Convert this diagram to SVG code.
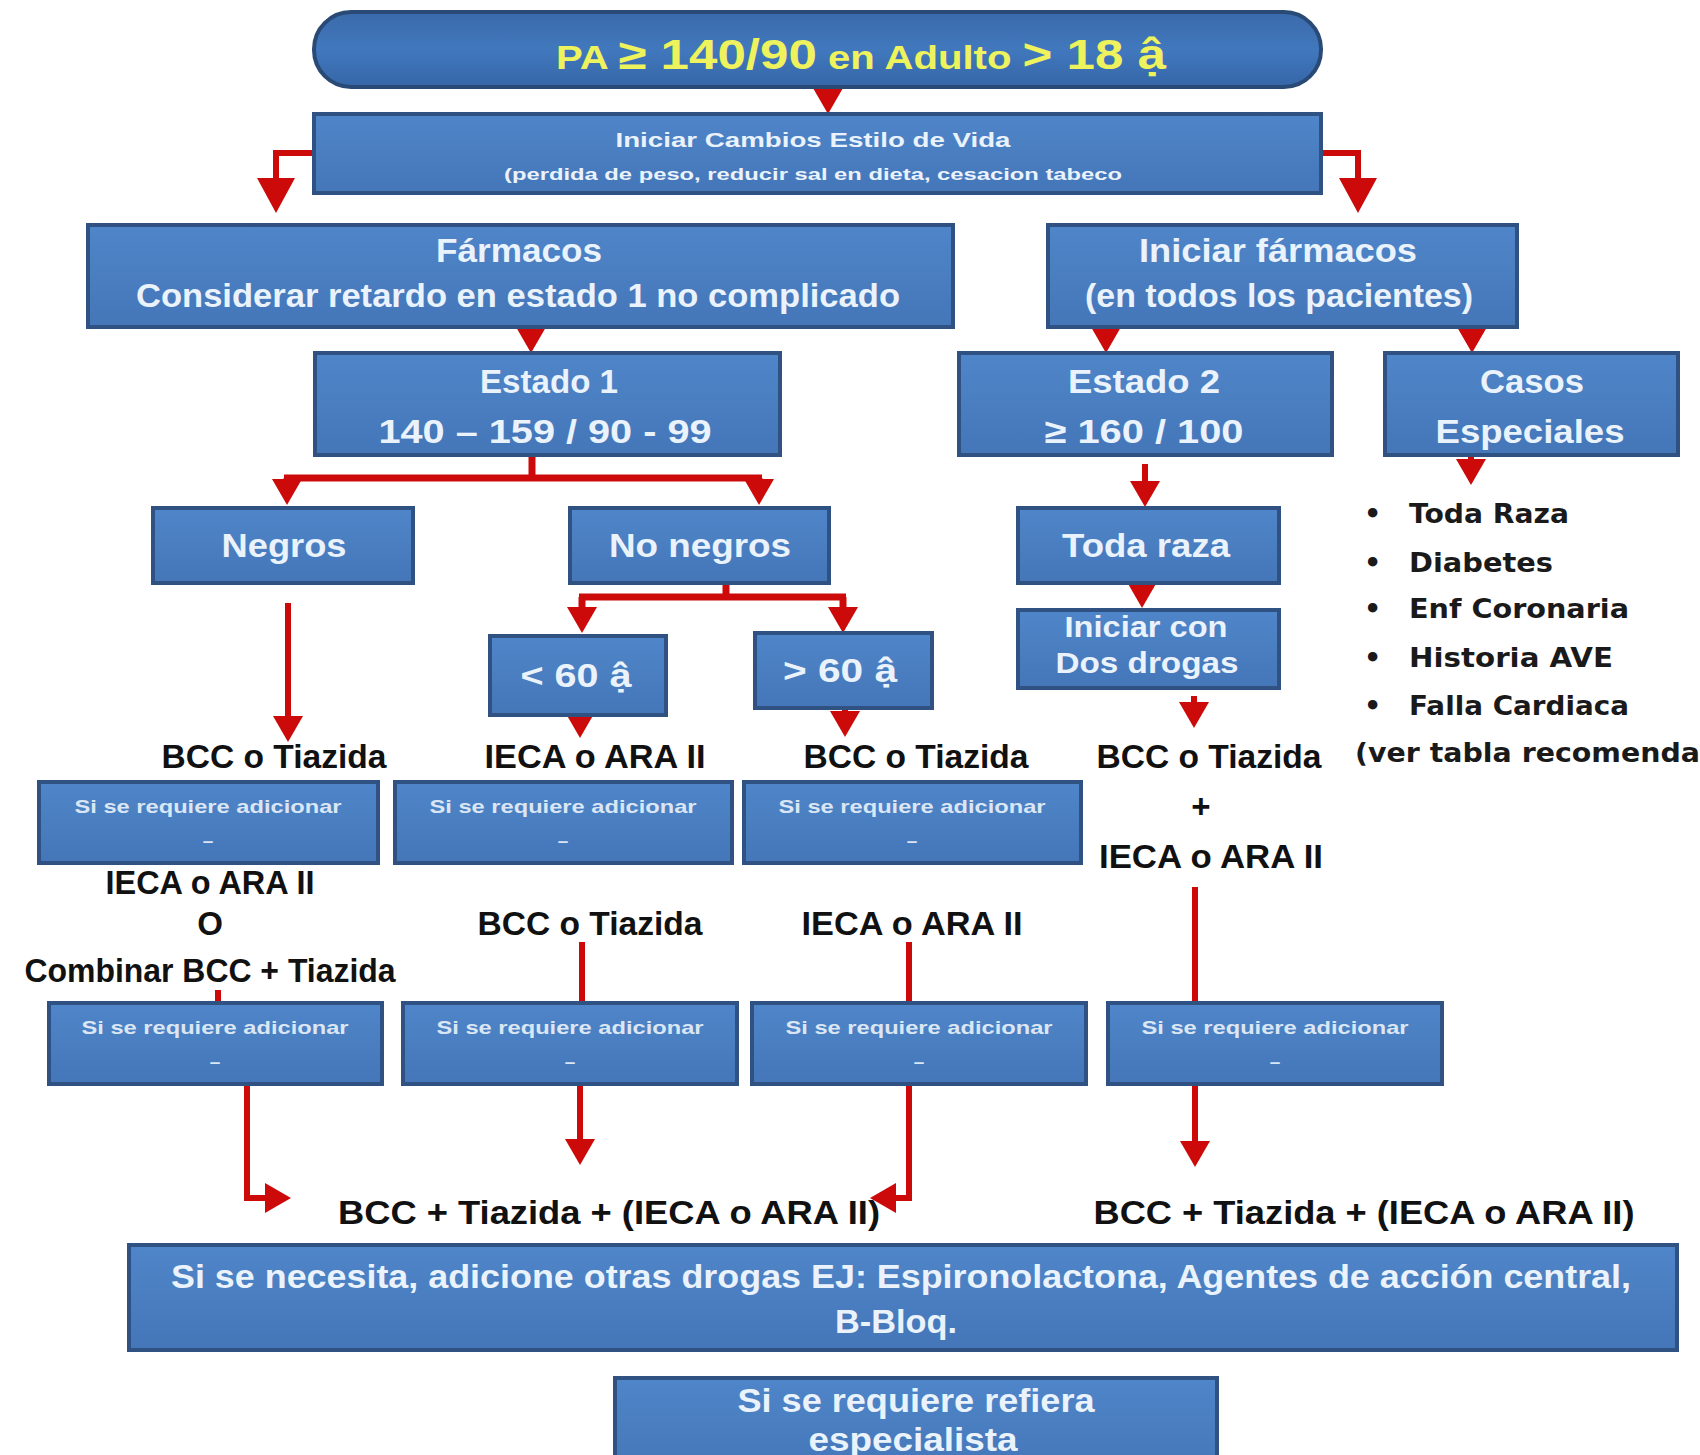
<svg xmlns="http://www.w3.org/2000/svg" width="1700" height="1455" viewBox="0 0 1700 1455">
<style>
.box{fill:url(#gBox);stroke:#2f5282;stroke-width:4}
.pill{fill:url(#gPill);stroke:#2a4a76;stroke-width:4}
.wt{font-family:"Liberation Sans",Arial,sans-serif;font-weight:bold;fill:#eaf2fc;text-anchor:middle}
.sm{font-family:"Liberation Sans",Arial,sans-serif;font-weight:bold;fill:#dbe6f4;text-anchor:middle;font-size:19px}
.bt{font-family:"Liberation Sans",Arial,sans-serif;font-weight:bold;fill:#111;text-anchor:middle;font-size:33px}
.li{font-family:"DejaVu Sans",Verdana,sans-serif;font-weight:bold;fill:#1a1a1a;font-size:27px}
.ln{fill:none;stroke:#cc0a0a;stroke-width:6}
.lt{fill:none;stroke:#cc0a0a;stroke-width:7}
</style>
<defs>
<linearGradient id="gBox" x1="0" y1="0" x2="0" y2="1">
<stop offset="0" stop-color="#4f86c9"/>
<stop offset="1" stop-color="#4476b8"/>
</linearGradient>
<linearGradient id="gPill" x1="0" y1="0" x2="0" y2="1">
<stop offset="0" stop-color="#3a6aab"/>
<stop offset="0.5" stop-color="#4178bd"/>
<stop offset="1" stop-color="#3566a8"/>
</linearGradient>
<marker id="ah" markerUnits="userSpaceOnUse" markerWidth="26" markerHeight="30" viewBox="0 0 26 30" refX="16" refY="15" orient="auto">
<path d="M0,0 L26,15 L0,30 z" fill="#cc0a0a"/>
</marker>
<marker id="ahL" markerUnits="userSpaceOnUse" markerWidth="35" markerHeight="38" viewBox="0 0 35 38" refX="25" refY="19" orient="auto">
<path d="M0,0 L35,19 L0,38 z" fill="#cc0a0a"/>
</marker>
</defs>
<rect x="0" y="0" width="1700" height="1455" fill="#ffffff"/>

<g id="connectors">
<path class="ln" d="M828,87 V104" marker-end="url(#ah)"/>
<path class="ln" d="M314,153 H276 V203" marker-end="url(#ahL)"/>
<path class="ln" d="M1321,153 H1358 V203" marker-end="url(#ahL)"/>
<path class="ln" d="M531,325 V343" marker-end="url(#ah)"/>
<path class="ln" d="M1106,327 V343" marker-end="url(#ah)"/>
<path class="ln" d="M1472,327 V343" marker-end="url(#ah)"/>
<path class="lt" d="M532,455 V478"/>
<path class="lt" d="M284,478 H762"/>
<path class="lt" d="M287,478 V495" marker-end="url(#ah)"/>
<path class="lt" d="M759,478 V495" marker-end="url(#ah)"/>
<path class="ln" d="M288,603 V732" marker-end="url(#ah)"/>
<path class="lt" d="M726,583 V597"/>
<path class="lt" d="M579,597 H846"/>
<path class="lt" d="M582,597 V623" marker-end="url(#ah)"/>
<path class="lt" d="M843,597 V623" marker-end="url(#ah)"/>
<path class="ln" d="M580,715 V728" marker-end="url(#ah)"/>
<path class="ln" d="M845,708 V727" marker-end="url(#ah)"/>
<path class="ln" d="M1145,464 V497" marker-end="url(#ah)"/>
<path class="ln" d="M1142,583 V598" marker-end="url(#ah)"/>
<path class="ln" d="M1194,696 V718" marker-end="url(#ah)"/>
<path class="ln" d="M1471,455 V475" marker-end="url(#ah)"/>
<path class="ln" d="M218,990 V1005"/>
<path class="ln" d="M582,942 V1005"/>
<path class="ln" d="M909,942 V1005"/>
<path class="ln" d="M1195,887 V1005"/>
<path class="ln" d="M247,1084 V1198 H281" marker-end="url(#ah)"/>
<path class="ln" d="M580,1084 V1155" marker-end="url(#ah)"/>
<path class="ln" d="M909,1084 V1198 H880" marker-end="url(#ah)"/>
<path class="ln" d="M1195,1084 V1157" marker-end="url(#ah)"/>
</g>

<g id="txt-ieca-a2"><text class="bt" x="210" y="894" textLength="209" lengthAdjust="spacingAndGlyphs">IECA o ARA II</text></g>

<g id="n-start">
<rect class="pill" x="314" y="12" width="1007" height="75" rx="37"/>
<text x="861" y="69" textLength="610" lengthAdjust="spacingAndGlyphs" text-anchor="middle" font-family="'Liberation Sans',Arial,sans-serif" font-weight="bold" fill="#eef25c"><tspan font-size="33">PA </tspan><tspan font-size="42">≥ 140/90</tspan><tspan font-size="33"> en Adulto </tspan><tspan font-size="42">&gt; 18 ậ</tspan></text>
</g>
<g id="n-estilo">
<rect class="box" x="314" y="114" width="1007" height="79"/>
<text class="wt" x="813" y="147" font-size="21" textLength="395" lengthAdjust="spacingAndGlyphs">Iniciar Cambios Estilo de Vida</text>
<text class="wt" x="813" y="180" font-size="17" textLength="618" lengthAdjust="spacingAndGlyphs">(perdida de peso, reducir sal  en dieta, cesacion tabeco</text>
</g>
<g id="n-farmacos">
<rect class="box" x="88" y="225" width="865" height="102"/>
<text class="wt" x="519" y="262" font-size="34" textLength="166" lengthAdjust="spacingAndGlyphs">Fármacos</text>
<text class="wt" x="518" y="307" font-size="34" textLength="764" lengthAdjust="spacingAndGlyphs">Considerar  retardo en  estado 1 no complicado</text>
</g>
<g id="n-iniciar-farmacos">
<rect class="box" x="1048" y="225" width="469" height="102"/>
<text class="wt" x="1278" y="262" font-size="34" textLength="278" lengthAdjust="spacingAndGlyphs">Iniciar fármacos</text>
<text class="wt" x="1279" y="307" font-size="34" textLength="388" lengthAdjust="spacingAndGlyphs">(en todos los pacientes)</text>
</g>
<g id="n-estado1">
<rect class="box" x="315" y="353" width="465" height="102"/>
<text class="wt" x="549" y="393" font-size="34" textLength="138" lengthAdjust="spacingAndGlyphs">Estado 1</text>
<text class="wt" x="545" y="443" font-size="34" textLength="333" lengthAdjust="spacingAndGlyphs">140 – 159 / 90 - 99</text>
</g>
<g id="n-estado2">
<rect class="box" x="959" y="353" width="373" height="102"/>
<text class="wt" x="1144" y="393" font-size="34" textLength="152" lengthAdjust="spacingAndGlyphs">Estado 2</text>
<text class="wt" x="1144" y="443" font-size="34" textLength="199" lengthAdjust="spacingAndGlyphs">≥ 160 / 100</text>
</g>
<g id="n-casos">
<rect class="box" x="1385" y="353" width="293" height="102"/>
<text class="wt" x="1532" y="393" font-size="34" textLength="104" lengthAdjust="spacingAndGlyphs">Casos</text>
<text class="wt" x="1530" y="443" font-size="34" textLength="189" lengthAdjust="spacingAndGlyphs">Especiales</text>
</g>
<g id="n-negros">
<rect class="box" x="153" y="508" width="260" height="75"/>
<text class="wt" x="284" y="557" font-size="34" textLength="125" lengthAdjust="spacingAndGlyphs">Negros</text>
</g>
<g id="n-nonegros">
<rect class="box" x="570" y="508" width="259" height="75"/>
<text class="wt" x="700" y="557" font-size="34" textLength="182" lengthAdjust="spacingAndGlyphs">No negros</text>
</g>
<g id="n-menor60">
<rect class="box" x="490" y="636" width="176" height="79"/>
<text class="wt" x="576" y="687" font-size="34" textLength="111" lengthAdjust="spacingAndGlyphs">&lt; 60 ậ</text>
</g>
<g id="n-mayor60">
<rect class="box" x="755" y="633" width="177" height="75"/>
<text class="wt" x="840" y="682" font-size="34" textLength="114" lengthAdjust="spacingAndGlyphs">&gt; 60 ậ</text>
</g>
<g id="n-todaraza">
<rect class="box" x="1018" y="508" width="261" height="75"/>
<text class="wt" x="1146" y="557" font-size="34" textLength="168" lengthAdjust="spacingAndGlyphs">Toda raza</text>
</g>
<g id="n-dosdrogas">
<rect class="box" x="1018" y="610" width="261" height="78"/>
<text class="wt" x="1146" y="637" font-size="30" textLength="163" lengthAdjust="spacingAndGlyphs">Iniciar con</text>
<text class="wt" x="1147" y="673" font-size="30" textLength="183" lengthAdjust="spacingAndGlyphs">Dos drogas</text>
</g>
<g id="n-casos-lista">
<text class="li" x="1364" y="523">•</text><text class="li" x="1409" y="523" textLength="160" lengthAdjust="spacingAndGlyphs">Toda Raza</text>
<text class="li" x="1364" y="572">•</text><text class="li" x="1409" y="572" textLength="144" lengthAdjust="spacingAndGlyphs">Diabetes</text>
<text class="li" x="1364" y="618">•</text><text class="li" x="1409" y="618" textLength="220" lengthAdjust="spacingAndGlyphs">Enf Coronaria</text>
<text class="li" x="1364" y="667">•</text><text class="li" x="1409" y="667" textLength="204" lengthAdjust="spacingAndGlyphs">Historia AVE</text>
<text class="li" x="1364" y="715">•</text><text class="li" x="1409" y="715" textLength="220" lengthAdjust="spacingAndGlyphs">Falla  Cardiaca</text>
<text class="li" x="1355" y="762" textLength="345" lengthAdjust="spacingAndGlyphs">(ver tabla recomenda</text>
</g>

<g id="t-r1-a"><text class="bt" x="274" y="768" textLength="225" lengthAdjust="spacingAndGlyphs">BCC o Tiazida</text></g>
<g id="t-r1-b"><text class="bt" x="595" y="768" textLength="221" lengthAdjust="spacingAndGlyphs">IECA o ARA II</text></g>
<g id="t-r1-c"><text class="bt" x="916" y="768" textLength="225" lengthAdjust="spacingAndGlyphs">BCC o Tiazida</text></g>
<g id="t-r1-d">
<text class="bt" x="1209" y="768" textLength="225" lengthAdjust="spacingAndGlyphs">BCC o Tiazida</text>
<text class="bt" x="1201" y="818">+</text>
<text class="bt" x="1211" y="868" textLength="224" lengthAdjust="spacingAndGlyphs">IECA o ARA II</text>
</g>

<g id="n-add-1a"><rect class="box" x="39" y="782" width="339" height="81"/><text class="sm" x="208" y="813" textLength="267" lengthAdjust="spacingAndGlyphs">Si se requiere adicionar</text><text class="sm" x="208" y="847">–</text></g>
<g id="n-add-1b"><rect class="box" x="395" y="782" width="337" height="81"/><text class="sm" x="563" y="813" textLength="267" lengthAdjust="spacingAndGlyphs">Si se requiere adicionar</text><text class="sm" x="563" y="847">–</text></g>
<g id="n-add-1c"><rect class="box" x="744" y="782" width="337" height="81"/><text class="sm" x="912" y="813" textLength="267" lengthAdjust="spacingAndGlyphs">Si se requiere adicionar</text><text class="sm" x="912" y="847">–</text></g>

<g id="t-r2-a">
<text class="bt" x="210" y="935">O</text>
<text class="bt" x="210" y="982" textLength="371" lengthAdjust="spacingAndGlyphs">Combinar  BCC + Tiazida</text>
</g>
<g id="t-r2-b"><text class="bt" x="590" y="935" textLength="225" lengthAdjust="spacingAndGlyphs">BCC o Tiazida</text></g>
<g id="t-r2-c"><text class="bt" x="912" y="935" textLength="221" lengthAdjust="spacingAndGlyphs">IECA o ARA II</text></g>

<g id="n-add-2a"><rect class="box" x="49" y="1003" width="333" height="81"/><text class="sm" x="215" y="1034" textLength="267" lengthAdjust="spacingAndGlyphs">Si se requiere adicionar</text><text class="sm" x="215" y="1068">–</text></g>
<g id="n-add-2b"><rect class="box" x="403" y="1003" width="334" height="81"/><text class="sm" x="570" y="1034" textLength="267" lengthAdjust="spacingAndGlyphs">Si se requiere adicionar</text><text class="sm" x="570" y="1068">–</text></g>
<g id="n-add-2c"><rect class="box" x="752" y="1003" width="334" height="81"/><text class="sm" x="919" y="1034" textLength="267" lengthAdjust="spacingAndGlyphs">Si se requiere adicionar</text><text class="sm" x="919" y="1068">–</text></g>
<g id="n-add-2d"><rect class="box" x="1108" y="1003" width="334" height="81"/><text class="sm" x="1275" y="1034" textLength="267" lengthAdjust="spacingAndGlyphs">Si se requiere adicionar</text><text class="sm" x="1275" y="1068">–</text></g>

<g id="t-triple-left"><text class="bt" x="609" y="1224" textLength="542" lengthAdjust="spacingAndGlyphs">BCC + Tiazida + (IECA o ARA II)</text></g>
<g id="t-triple-right"><text class="bt" x="1364" y="1224" textLength="541" lengthAdjust="spacingAndGlyphs">BCC + Tiazida + (IECA o ARA II)</text></g>

<g id="n-otras">
<rect class="box" x="129" y="1245" width="1548" height="105"/>
<text class="wt" x="901" y="1288" font-size="33" textLength="1460" lengthAdjust="spacingAndGlyphs">Si se necesita, adicione otras drogas EJ: Espironolactona,  Agentes de acción central,</text>
<text class="wt" x="896" y="1333" font-size="33" textLength="122" lengthAdjust="spacingAndGlyphs">B-Bloq.</text>
</g>
<g id="n-especialista">
<rect class="box" x="615" y="1378" width="602" height="95"/>
<text class="wt" x="916" y="1412" font-size="33" textLength="357" lengthAdjust="spacingAndGlyphs">Si se requiere refiera</text>
<text class="wt" x="913" y="1451" font-size="33" textLength="209" lengthAdjust="spacingAndGlyphs">especialista</text>
</g>
</svg>
